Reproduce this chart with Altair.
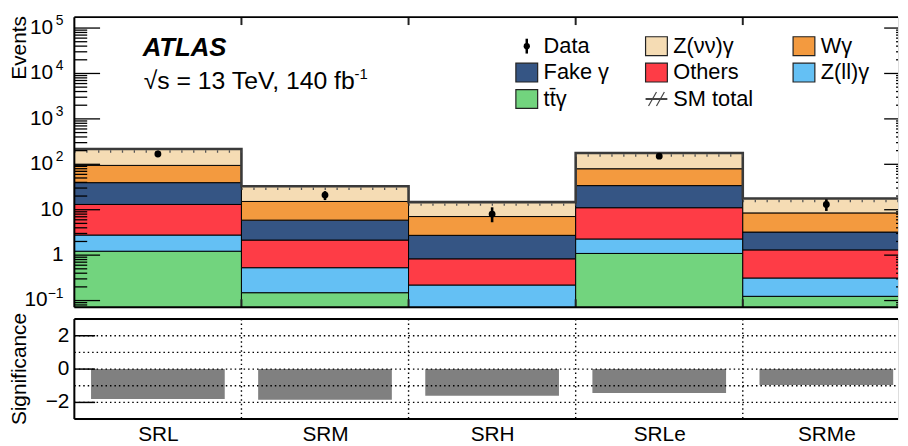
import altair as alt
import numpy as np
import pandas as pd

FONT = "Liberation Sans"

# ---------------- data ----------------
regions = ["SRL", "SRM", "SRH", "SRLe", "SRMe"]
# stacked from bottom to top
proc_names = ["ttgamma", "Zllgamma", "Others", "Fake", "Wgamma", "Znunugamma"]
proc_labels = ["tt\u0304\u03b3", "Z(ll)\u03b3", "Others", "Fake \u03b3", "W\u03b3", "Z(\u03bd\u03bd)\u03b3"]
proc_colors = ["#72d47e", "#64c0f4", "#fe3c46", "#355584", "#f39a3f", "#f5dcb4"]

ttgamma = [1.22, 0.149, 0.05, 1.09, 0.124]
zllgamma = [1.55, 0.38, 0.17, 1.18, 0.19]
others = [10.3, 1.62, 0.61, 8.8, 0.99]
fake = [26.4, 3.75, 1.90, 22.9, 1.92]
wgamma = [55.1, 9.3, 4.35, 45.8, 5.28]
znunugamma = [123.0, 17.8, 7.6, 98.0, 9.2]

data_obs = [169, 21, 8, 151, 13]
data_err_lo = [13, 4.7, 2.7, 12, 3.6]
data_err_hi = [13, 4.7, 3.3, 12, 4.0]

significance = [-1.80, -1.84, -1.60, -1.44, -0.96]

ytick_vals = [0.1, 1, 10, 100, 1e3, 1e4, 1e5]
ytick_base = ["10", "1", "10", "10", "10", "10", "10"]
ytick_exp = ["\u22121", "", "", "2", "3", "4", "5"]
sig_ticks = [2, 0, -2]
sig_tick_labels = ["2", "0", "\u22122"]

# ---------------- layout constants ----------------
W = 832          # visible plot width
BINW = 168.8     # pixel width of one region
XMAX = W / BINW
RIGHT = 5 * BINW  # frame right edge (outside the window)
HT = 293
HB = 101
YMIN, YMAX = 0.0714, 1.74e5

xs = alt.Scale(domain=[0, XMAX], nice=False, zero=False)
ys = alt.Scale(type="log", domain=[YMIN, YMAX], nice=False)
ysb = alt.Scale(domain=[-3, 3], nice=False, zero=False)

# ---------------- tables ----------------
comps = np.array([ttgamma, zllgamma, others, fake, wgamma, znunugamma])
cum = np.cumsum(comps, axis=0)
rows = []
for i, r in enumerate(regions):
    for j, p in enumerate(proc_names):
        lo = cum[j - 1, i] if j > 0 else 1e-4
        rows.append({"region": r, "proc": p, "x0": i, "x1": i + 1, "lo": lo, "hi": cum[j, i]})
stack_df = pd.DataFrame(rows)

totals = list(cum[-1])
step_df = pd.DataFrame({"x": list(range(6)), "t": totals + [totals[-1]]})
tot_df = pd.DataFrame({"x0": range(5), "x1": range(1, 6), "t": totals})

data_df = pd.DataFrame({
    "xc": [i + 0.5 for i in range(5)],
    "n": data_obs,
    "lo": [n - e for n, e in zip(data_obs, data_err_lo)],
    "hi": [n + e for n, e in zip(data_obs, data_err_hi)],
})

major = ytick_vals
minor = [k * 10.0 ** d for d in range(-2, 6) for k in range(2, 10)]
minor = [v for v in minor if YMIN < v < YMAX]
major_df = pd.DataFrame({"v": major})
minor_df = pd.DataFrame({"v": minor})
edges_df = pd.DataFrame({"e": [1, 2, 3, 4]})

ylab = pd.DataFrame({"val": ytick_vals, "base": ytick_base, "exp": ytick_exp})
ylab["bx"] = [-11 - (0 if e == "" else 5 + 5.5 * len(e)) for e in ytick_exp]

color_scale = alt.Scale(domain=proc_names, range=proc_colors)

# ---------------- top panel ----------------
stack = alt.Chart(stack_df).mark_rect(stroke="black", strokeWidth=1, clip=True).encode(
    x=alt.X("x0:Q", scale=xs, axis=None), x2="x1:Q",
    y=alt.Y("lo:Q", scale=ys, axis=None), y2="hi:Q",
    color=alt.Color("proc:N", scale=color_scale, legend=None),
)
outline = alt.Chart(step_df).mark_line(interpolate="step-after", color="#3a3a3a", strokeWidth=2.6, clip=True).encode(
    x=alt.X("x:Q", scale=xs, axis=None), y=alt.Y("t:Q", scale=ys, axis=None)
)
hatch = alt.Chart(tot_df).mark_rule(color="#555555", strokeWidth=2.5, strokeDash=[1.3, 10.7], yOffset=2.5, clip=True).encode(
    x=alt.X("x0:Q", scale=xs, axis=None), x2="x1:Q", y=alt.Y("t:Q", scale=ys, axis=None)
)
errbar = alt.Chart(data_df).mark_rule(color="black", strokeWidth=2.6).encode(
    x=alt.X("xc:Q", scale=xs, axis=None), y=alt.Y("lo:Q", scale=ys, axis=None), y2="hi:Q"
)
points = alt.Chart(data_df).mark_circle(color="black", size=48, opacity=1).encode(
    x=alt.X("xc:Q", scale=xs, axis=None), y=alt.Y("n:Q", scale=ys, axis=None)
)

def yrule(df, x1, x2, scale, width=1.3):
    return alt.Chart(df).mark_rule(color="black", strokeWidth=width).encode(
        x=alt.value(x1), x2=alt.value(x2), y=alt.Y("v:Q", scale=scale, axis=None)
    )

lt_major = yrule(major_df, 0, 26, ys)
lt_minor = yrule(minor_df, 0, 13, ys)
rt_major = yrule(major_df, RIGHT - 26, W, ys)
rt_minor = yrule(minor_df, RIGHT - 14, W, ys)

top_edge_ticks = alt.Chart(edges_df).mark_rule(color="#222222", strokeWidth=2).encode(
    x=alt.X("e:Q", scale=xs, axis=None), y=alt.value(0), y2=alt.value(8)
)
bot_edge_ticks = alt.Chart(edges_df).mark_rule(color="#222222", strokeWidth=2).encode(
    x=alt.X("e:Q", scale=xs, axis=None), y=alt.value(HT - 8), y2=alt.value(HT)
)

def frame(h):
    base = alt.Chart(pd.DataFrame({"k": [0]}))
    return alt.layer(
        base.mark_rule(color="black", strokeWidth=2).encode(x=alt.value(0), x2=alt.value(W), y=alt.value(0)),
        base.mark_rule(color="black", strokeWidth=2).encode(x=alt.value(0), x2=alt.value(W), y=alt.value(h)),
        base.mark_rule(color="black", strokeWidth=2).encode(x=alt.value(0), y=alt.value(0), y2=alt.value(h)),
    )

ylab_base = alt.Chart(ylab).mark_text(align="right", baseline="middle", fontSize=21, font=FONT).encode(
    x=alt.X("bx:Q", scale=None, axis=None), y=alt.Y("val:Q", scale=ys, axis=None), text="base:N"
)
ylab_exp = alt.Chart(ylab[ylab.exp != ""]).mark_text(align="right", baseline="middle", fontSize=14, dy=-7, font=FONT).encode(
    x=alt.value(-11), y=alt.Y("val:Q", scale=ys, axis=None), text="exp:N"
)

one = alt.Chart(pd.DataFrame({"k": [0]}))
events_title = one.mark_text(text="Events", angle=270, align="right", baseline="middle", fontSize=21, font=FONT).encode(
    x=alt.value(-55), y=alt.value(-1)
)
atlas = one.mark_text(text="ATLAS", align="left", baseline="alphabetic", fontSize=26, font=FONT,
                      fontWeight="bold", fontStyle="italic").encode(x=alt.value(69), y=alt.value(39))
energy = one.mark_text(text="\u221as = 13 TeV, 140 fb", align="left", baseline="alphabetic", fontSize=25, font=FONT).encode(
    x=alt.value(70), y=alt.value(73))
energy_exp = one.mark_text(text="-1", align="left", baseline="alphabetic", fontSize=15, font=FONT).encode(
    x=alt.value(283), y=alt.value(62))

# legend
LEG_X = [446, 577, 726]
LEG_Y = [29.3, 56, 82.7]
SW, SH = 22, 19
legend_order = ["Data", "Znunugamma", "Wgamma", "Fake", "Others", "Zllgamma", "ttgamma", "SM total"]
lab_map = dict(zip(proc_names, proc_labels))
col_map = dict(zip(proc_names, proc_colors))
leg_rows = []
for k, key in enumerate(legend_order):
    c, r = k % 3, k // 3
    sx, cy = LEG_X[c], LEG_Y[r]
    leg_rows.append({
        "key": key,
        "label": lab_map.get(key, key),
        "color": col_map.get(key, "none"),
        "sx": sx, "sx2": sx + SW, "sy": cy - SH / 2, "sy2": cy + SH / 2,
        "cx": sx + SW / 2, "cy": cy, "tx": sx + 28,
    })
leg = pd.DataFrame(leg_rows)
leg_boxes = leg[leg.key.isin(proc_names)]
leg_data = leg[leg.key == "Data"]
leg_sm = leg[leg.key == "SM total"]

leg_rect = alt.Chart(leg_boxes).mark_rect(stroke="#222222", strokeWidth=1.2).encode(
    x=alt.X("sx:Q", scale=None), x2="sx2:Q", y=alt.Y("sy:Q", scale=None), y2="sy2:Q",
    fill=alt.Color("color:N", scale=None),
)
leg_text = alt.Chart(leg).mark_text(align="left", baseline="middle", fontSize=22, font=FONT).encode(
    x=alt.X("tx:Q", scale=None), y=alt.Y("cy:Q", scale=None), text="label:N"
)
leg_dot = alt.Chart(leg_data).mark_circle(color="black", size=40, opacity=1).encode(
    x=alt.X("cx:Q", scale=None), y=alt.Y("cy:Q", scale=None)
)
leg_bar = alt.Chart(leg_data.assign(y1=leg_data.cy - 7.5, y2=leg_data.cy + 7.5)).mark_rule(color="black", strokeWidth=2.5).encode(
    x=alt.X("cx:Q", scale=None), y=alt.Y("y1:Q", scale=None), y2="y2:Q"
)
leg_sm_line = alt.Chart(leg_sm).mark_rule(color="#444444", strokeWidth=2).encode(
    x=alt.X("sx:Q", scale=None), x2="sx2:Q", y=alt.Y("cy:Q", scale=None)
)
hatch_rows = []
for _, rr in leg_sm.iterrows():
    for off in (3, 11):
        hatch_rows.append({"a": rr.sx + off, "b": rr.sx + off + 8, "c": rr.cy + 7, "d": rr.cy - 7})
leg_sm_hatch = alt.Chart(pd.DataFrame(hatch_rows)).mark_rule(color="#444444", strokeWidth=1.2).encode(
    x=alt.X("a:Q", scale=None), x2="b:Q", y=alt.Y("c:Q", scale=None), y2="d:Q"
)

top = alt.layer(
    stack, outline, hatch, errbar, points,
    lt_major, lt_minor, rt_major, rt_minor, top_edge_ticks, bot_edge_ticks, frame(HT),
    ylab_base, ylab_exp, events_title, atlas, energy, energy_exp,
    leg_rect, leg_text, leg_dot, leg_bar, leg_sm_line, leg_sm_hatch,
).properties(width=W, height=HT)

# ---------------- bottom panel ----------------
sig_df = pd.DataFrame({"x0": [i + 0.1 for i in range(5)], "x1": [i + 0.9 for i in range(5)],
                       "z": [0] * 5, "s": significance})
label_expr = "[" + ",".join("'" + r + "'" for r in regions) + "][floor(datum.value)]"
xaxis_b = alt.Axis(values=[i + 0.5 for i in range(5)], labelExpr=label_expr,
                   ticks=False, domain=False, grid=False, labelFontSize=21,
                   labelFont=FONT, labelColor="black", labelPadding=5, title=None,
                   labelFlush=False)

sig_bars = alt.Chart(sig_df).mark_rect(color="#808080", clip=True).encode(
    x=alt.X("x0:Q", scale=xs, axis=xaxis_b),
    x2="x1:Q",
    y=alt.Y("z:Q", scale=ysb, axis=None), y2="s:Q",
)
hgrid = alt.Chart(pd.DataFrame({"v": [2, 1, 0, -1, -2]})).mark_rule(color="black", strokeWidth=1.4, strokeDash=[1.5, 3]).encode(
    x=alt.value(0), x2=alt.value(W), y=alt.Y("v:Q", scale=ysb, axis=None)
)
vgrid = alt.Chart(edges_df).mark_rule(color="black", strokeWidth=1.4, strokeDash=[1.5, 3]).encode(
    x=alt.X("e:Q", scale=xs, axis=xaxis_b), y=alt.value(0), y2=alt.value(HB)
)
sig_tick = alt.Chart(pd.DataFrame({"v": sig_ticks})).mark_rule(color="black", strokeWidth=1.5).encode(
    x=alt.value(0), x2=alt.value(21), y=alt.Y("v:Q", scale=ysb, axis=None)
)
sig_lab = alt.Chart(pd.DataFrame({"v": sig_ticks, "t": sig_tick_labels})).mark_text(
    align="right", baseline="middle", fontSize=21, font=FONT).encode(
    x=alt.value(-5), y=alt.Y("v:Q", scale=ysb, axis=None), text="t:N"
)
sig_title = one.mark_text(text="Significance", angle=270, align="center", baseline="middle", fontSize=21, font=FONT).encode(
    x=alt.value(-55), y=alt.value(HB / 2)
)

bottom = alt.layer(sig_bars, hgrid, vgrid, sig_tick, frame(HB), sig_lab, sig_title).properties(width=W, height=HB)

chart = alt.vconcat(top, bottom, spacing=1).properties(
    padding={"left": 0, "top": 3, "right": 0, "bottom": 0}
).configure_view(stroke=None).configure(font=FONT)

chart.save("out.html", embed_options={"renderer": "svg", "actions": False})
